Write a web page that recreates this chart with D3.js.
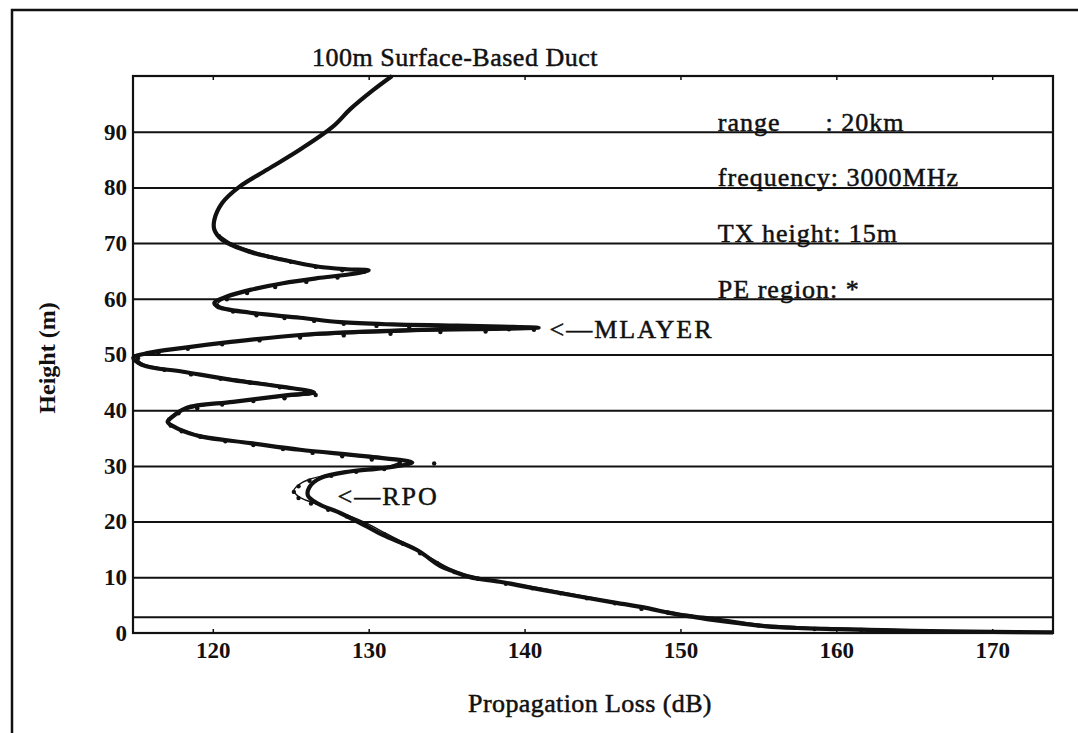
<!DOCTYPE html>
<html>
<head>
<meta charset="utf-8">
<script src="https://cdn.jsdelivr.net/npm/d3@7"></script>
<style>
  body { margin: 0; background: #fff; }
  svg text { font-family: "Liberation Serif", "Times New Roman", serif; fill: #111; }
  .grid line { stroke: #111; stroke-width: 2; }
  .grid path { display: none; }
  .tick text { font-weight: bold; font-size: 23px; }
  .label { stroke: #111; stroke-width: 0.5; }
</style>
</head>
<body>
<svg id="chart" width="1078" height="733"></svg>
<script>
// solid curve (RPO), loss in dB and height in m, read from top to bottom
var rpoLoss = [131.5, 130.3, 128.8, 127.7, 125.6, 123.5, 121.7, 120.6, 120.1, 120.1,
  120.6, 122.4, 124.5, 126.7, 128.6, 130.0, 128.8, 126.7, 124.5, 122.4,
  120.9, 120.1, 120.3, 122.4, 125.6, 128.2, 131.5, 135.2, 138.5, 140.9,
  138.0, 135.2, 129.7, 125.6, 121.3, 118.1, 115.9, 114.9, 115.5, 118.1,
  121.3, 124.5, 126.5, 124.8, 121.3, 118.3, 117.4, 117.1, 117.9, 119.2,
  122.4, 125.6, 129.9, 132.8, 130.9, 128.8, 126.9, 126.2, 126.1, 126.7,
  128.2, 129.9, 130.9, 133.1, 134.6, 135.5, 136.5, 138.4, 141.8, 145.5,
  147.8, 149.3, 150.5, 151.7, 153.6, 155.5, 157.5, 160.0, 163.0, 166.0,
  170.0, 173.9];
var rpoHeight = [100, 97.5, 94.0, 90.9, 86.8, 83.2, 80.1, 77.2, 74.2, 72.4,
  70.6, 68.4, 67.0, 65.8, 65.3, 65.1, 64.4, 63.7, 62.8, 61.6,
  60.4, 59.3, 58.6, 57.5, 56.6, 55.8, 55.4, 55.2, 55.0, 54.8,
  54.6, 54.5, 54.1, 53.5, 52.3, 51.2, 50.3, 49.4, 48.1, 46.9,
  45.4, 44.2, 43.2, 42.7, 41.5, 40.4, 38.8, 37.9, 36.5, 35.3,
  34.1, 32.9, 31.7, 30.6, 29.6, 29.0, 27.8, 26.2, 24.7, 23.3,
  21.5, 19.1, 17.6, 14.9, 12.0, 11.0, 10.0, 9.2, 7.4, 5.6,
  4.5, 3.6, 3.0, 2.5, 1.8, 1.2, 0.9, 0.7, 0.5, 0.35,
  0.2, 0.1];

// PE region points (the "*" dots)
var peLoss = [120.4, 121.2, 122.3, 123.6, 125.0, 126.6, 128.3, 129.7, 128.0, 126.0,
  124.0, 122.2, 120.9, 120.3, 121.3, 122.8, 124.6, 126.5, 128.4, 130.5,
  132.6, 134.8, 137.0, 139.0, 140.6, 137.5, 134.6, 131.4, 128.4, 125.6,
  123.0, 120.6, 118.4, 116.5, 115.2, 115.4, 116.9, 118.6, 120.5, 122.4,
  124.3, 125.9, 126.6, 124.6, 122.6, 120.6, 119.0, 117.8, 117.2, 117.3,
  118.0, 119.2, 120.8, 122.6, 124.5, 126.4, 128.3, 130.2, 132.0, 131.0,
  129.2, 127.6, 126.2, 125.5, 125.2, 125.5, 126.3, 127.4, 128.6, 129.8,
  131.0, 132.2, 133.3, 134.4, 135.5, 137.0, 138.8, 140.5, 142.3, 144.0,
  145.8, 147.5, 149.2, 150.6, 152.3, 155.0, 158.6, 161.6, 164.7];
var peHeight = [71.5, 70.0, 68.8, 67.8, 66.9, 66.0, 65.4, 65.1, 64.1, 63.3,
  62.4, 61.3, 60.2, 59.0, 58.0, 57.3, 56.8, 56.3, 55.8, 55.4,
  55.2, 55.0, 54.9, 54.8, 54.7, 54.4, 54.3, 54.0, 53.7, 53.3,
  52.8, 52.1, 51.3, 50.5, 49.6, 48.5, 47.5, 46.7, 45.9, 45.2,
  44.4, 43.6, 43.0, 42.4, 41.9, 41.3, 40.6, 39.7, 38.6, 37.5,
  36.5, 35.5, 34.7, 34.0, 33.3, 32.6, 32.0, 31.4, 30.8, 29.7,
  29.2, 28.5, 27.6, 26.6, 25.6, 24.5, 23.5, 22.4, 21.2, 19.8,
  18.0, 16.3, 14.6, 12.8, 11.2, 10.0, 9.1, 8.3, 7.4, 6.5,
  5.6, 4.6, 3.9, 3.3, 2.7, 1.6, 1.0, 0.8, 0.6];
var peStrayLoss = [134.2];
var peStrayHeight = [30.7];

var xTicks = [120, 130, 140, 150, 160, 170];
var yTicks = [0, 10, 20, 30, 40, 50, 60, 70, 80, 90];
var gridHeights = [10, 20, 30, 40, 50, 60, 70, 80, 90, 2.9];

var infoLines = ["range      : 20km", "frequency: 3000MHz", "TX height: 15m", "PE region: *"];
var infoHeights = [90, 80, 70, 60];

var svg = d3.select("svg#chart");
var margin = { top: 76, left: 133 };
var plotWidth = 920;
var plotHeight = 557;

/* outer frame of the scanned page */
svg.append("rect")
  .attr("x", 12).attr("y", 10)
  .attr("width", 1100).attr("height", 760)
  .attr("fill", "none").attr("stroke", "#111").attr("stroke-width", 2.5);

var lossScale = d3.scaleLinear()
  .domain([114.88, 173.9])
  .range([0, plotWidth]);

var heightScale = d3.scaleLinear()
  .domain([0, 100])
  .range([plotHeight, 0]);

var plot = svg.append("g")
  .attr("id", "plot")
  .attr("transform", "translate(" + margin.left + "," + margin.top + ")");

// horizontal grid
plot.append("g")
  .attr("class", "grid")
  .call(d3.axisLeft(heightScale).tickValues(gridHeights).tickSize(-plotWidth).tickFormat(""));

plot.append("rect")
  .attr("width", plotWidth).attr("height", plotHeight)
  .attr("fill", "none").attr("stroke", "#111").attr("stroke-width", 2.2);

var yAxis = d3.axisLeft(heightScale).tickValues(yTicks).tickSize(0).tickPadding(6);
plot.append("g").attr("id", "y-axis").call(yAxis)
  .call(function(g) { g.select(".domain").remove(); });

var xAxis = d3.axisBottom(lossScale).tickValues(xTicks).tickSize(-4).tickPadding(9);
plot.append("g").attr("id", "x-axis")
  .attr("transform", "translate(0," + plotHeight + ")")
  .call(xAxis)
  .call(function(g) {
    g.select(".domain").remove();
    g.selectAll(".tick line").attr("stroke", "#111").attr("stroke-width", 1.5);
  });

plot.append("g")
  .call(d3.axisTop(lossScale).tickValues(xTicks).tickSize(-4).tickFormat(""))
  .call(function(g) {
    g.select(".domain").remove();
    g.selectAll(".tick line").attr("stroke", "#111").attr("stroke-width", 1.5);
  });

var line = d3.line()
  .x(function(d) { return lossScale(d[0]); })
  .y(function(d) { return heightScale(d[1]); })
  .curve(d3.curveCatmullRom.alpha(0.5));

var pePoints = d3.zip(peLoss, peHeight);
var rpoPoints = d3.zip(rpoLoss, rpoHeight);

plot.append("path")
  .attr("d", line(pePoints))
  .attr("fill", "none").attr("stroke", "#111").attr("stroke-width", 1.4);

plot.append("path")
  .attr("class", "line")
  .attr("d", line(rpoPoints))
  .attr("fill", "none").attr("stroke", "#111").attr("stroke-width", 4.2)
  .attr("stroke-linejoin", "round");

plot.selectAll("circle.pe")
  .data(pePoints.concat(d3.zip(peStrayLoss, peStrayHeight)))
  .enter().append("circle")
  .attr("class", "pe")
  .attr("cx", function(d) { return lossScale(d[0]); })
  .attr("cy", function(d) { return heightScale(d[1]) + 1.5; })
  .attr("r", 2.2)
  .attr("fill", "#111");

/* annotations */
plot.selectAll("text.info")
  .data(infoLines)
  .enter().append("text")
  .attr("class", "info label")
  .attr("x", lossScale(152.4))
  .attr("y", function(d, i) { return heightScale(infoHeights[i]) - 1; })
  .attr("font-size", 26)
  .attr("letter-spacing", 1)
  .style("white-space", "pre")
  .text(function(d) { return d; });

plot.append("text")
  .attr("class", "label")
  .attr("x", lossScale(141.6)).attr("y", heightScale(53.0))
  .attr("font-size", 26)
  .attr("letter-spacing", 2)
  .text("<\u2014MLAYER");

plot.append("text")
  .attr("class", "label")
  .attr("x", lossScale(128.0)).attr("y", heightScale(23.0))
  .attr("font-size", 26)
  .attr("letter-spacing", 2)
  .text("<\u2014RPO");

svg.append("text")
  .attr("class", "label")
  .attr("x", 455).attr("y", 66)
  .attr("text-anchor", "middle")
  .attr("font-size", 26)
  .attr("letter-spacing", 0.5)
  .text("100m Surface-Based Duct");

svg.append("text")
  .attr("class", "label")
  .attr("x", margin.left + lossScale(144.2)).attr("y", 712)
  .attr("text-anchor", "middle")
  .attr("font-size", 26)
  .attr("letter-spacing", 0.4)
  .text("Propagation Loss (dB)");

svg.append("text")
  .attr("transform", "translate(55,358) rotate(-90)")
  .attr("text-anchor", "middle")
  .attr("font-size", 24)
  .attr("font-weight", "bold")
  .text("Height (m)");
</script>
</body>
</html>
